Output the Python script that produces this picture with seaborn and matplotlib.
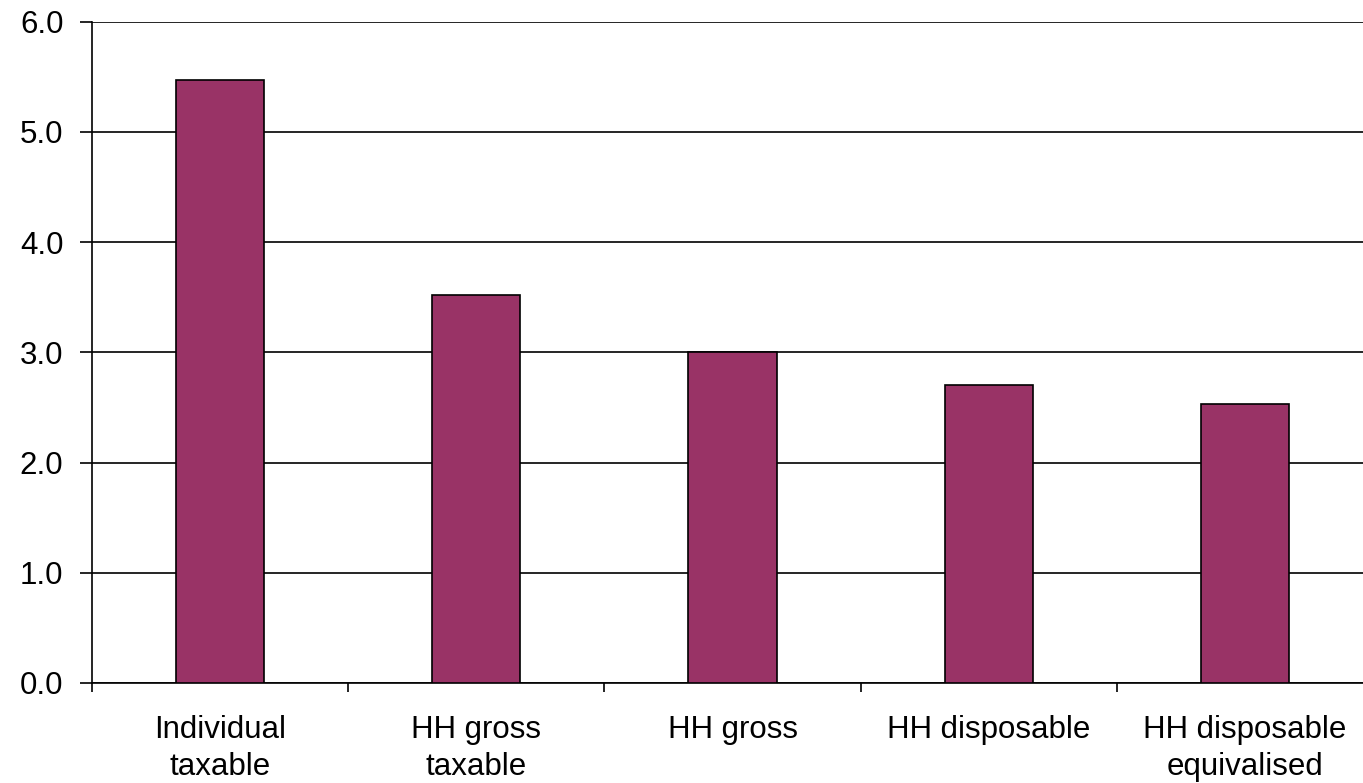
import matplotlib.pyplot as plt
import seaborn as sns
import pandas as pd

# values
categories = ['Individual\ntaxable', 'HH gross\ntaxable', 'HH gross',
              'HH disposable', 'HH disposable\nequivalised']
values = [5.47, 3.52, 3.00, 2.70, 2.53]

df = pd.DataFrame({'cat': categories, 'val': values})

sns.set_style('white')
plt.rcParams['font.family'] = ['Liberation Sans', 'DejaVu Sans']

fig = plt.figure(figsize=(13.63, 7.83), dpi=100)
ax = fig.add_axes([92 / 1363, 100 / 783, 1281 / 1363, 661.5 / 783])

sns.barplot(data=df, x='cat', y='val', color='#993366', width=0.345,
            edgecolor='black', linewidth=1.2, saturation=1, ax=ax, zorder=3)

ax.set_ylim(0, 6)
ax.set_xlim(-0.5, 4.5)
ax.set_yticks([0, 1, 2, 3, 4, 5, 6])
ax.set_yticklabels(['%.1f' % v for v in range(7)], fontsize=22.5,
                   color='black')
ax.yaxis.grid(True, color='black', linewidth=1.2, zorder=0)
ax.set_axisbelow(True)

# category boundaries get the tick marks, labels sit at centres
ax.set_xticks([-0.5, 0.5, 1.5, 2.5, 3.5])
ax.set_xticklabels([])
ax.set_xticks(range(len(categories)), minor=True)
ax.set_xticklabels(categories, minor=True, fontsize=22.5, linespacing=1.3,
                   color='black')
ax.tick_params(axis='x', which='minor', length=0, pad=23)
ax.tick_params(axis='x', which='major', direction='out', length=6.5,
               width=1.2, color='black', bottom=True)
ax.tick_params(axis='y', direction='out', length=8.6, width=1.2,
               color='black', pad=12, left=True)

for s in ['top', 'right']:
    ax.spines[s].set_visible(False)
for s in ['left', 'bottom']:
    ax.spines[s].set_color('black')
    ax.spines[s].set_linewidth(1.2)

ax.set_xlabel('')
ax.set_ylabel('')

plt.savefig('out.png', dpi=100)
plt.close()
